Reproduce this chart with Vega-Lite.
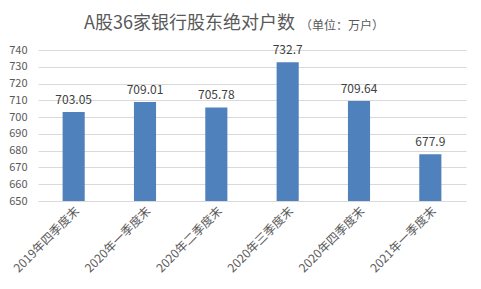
{
  "$schema": "https://vega.github.io/schema/vega-lite/v6.json",
  "width": 428,
  "height": 151,
  "autosize": {"type": "none"},
  "padding": {"left": 38, "top": 50, "right": 15, "bottom": 88},
  "background": "white",
  "title": {
    "text": "A股36家银行股东绝对户数",
    "subtitle": "\u2800\u2800\u2800\u2800\u2800\u2800\u2800\u2800\u2800\u2800\u2800\u2800\u2800\u2800\u2800\u2800\u2800\u2800\u2800\u2800\u2800\u2800\u2800\u2800（单位：万户）",
    "anchor": "start",
    "align": "left",
    "frame": "group",
    "dx": 46,
    "offset": 11,
    "font": "Noto Sans CJK SC",
    "fontSize": 18,
    "fontWeight": "normal",
    "color": "#595959",
    "subtitleFont": "Noto Sans CJK SC",
    "subtitleFontSize": 12,
    "subtitleColor": "#595959",
    "subtitlePadding": -12
  },
  "data": {
    "values": [
      {"period": "2019年四季度末", "value": 703.05},
      {"period": "2020年一季度末", "value": 709.01},
      {"period": "2020年二季度末", "value": 705.78},
      {"period": "2020年三季度末", "value": 732.7},
      {"period": "2020年四季度末", "value": 709.64},
      {"period": "2021年一季度末", "value": 677.9}
    ]
  },
  "encoding": {
    "x": {
      "field": "period",
      "type": "nominal",
      "sort": null,
      "scale": {"paddingInner": 0.69, "paddingOuter": 0.345},
      "axis": {
        "title": null,
        "labelAngle": -45,
        "labelFont": "Noto Sans CJK SC",
        "labelFontSize": 12,
        "labelColor": "#595959",
        "ticks": false,
        "domainColor": "#d9d9d9",
        "labelPadding": 4
      }
    },
    "y": {
      "field": "value",
      "type": "quantitative",
      "scale": {"domain": [650, 740], "nice": false, "zero": false},
      "axis": {
        "title": null,
        "values": [650, 660, 670, 680, 690, 700, 710, 720, 730, 740],
        "labelFont": "Noto Sans CJK SC",
        "labelFontSize": 11,
        "labelColor": "#595959",
        "ticks": false,
        "domain": false,
        "gridColor": "#d9d9d9",
        "labelPadding": 11
      }
    }
  },
  "layer": [
    {"mark": {"type": "bar", "color": "#4f81bd", "clip": true}},
    {
      "mark": {"type": "text", "baseline": "alphabetic", "dy": -8, "font": "Noto Sans CJK SC", "fontSize": 12, "color": "#404040"},
      "encoding": {"text": {"field": "value", "type": "quantitative"}}
    }
  ],
  "config": {"view": {"stroke": null}}
}
